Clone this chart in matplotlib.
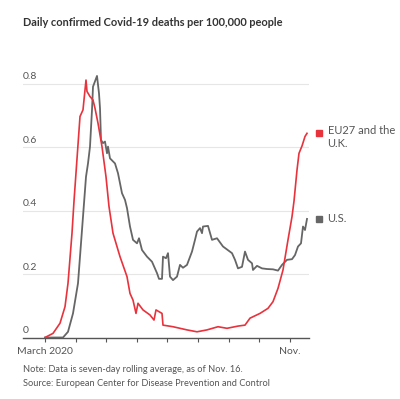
import datetime as dt
import matplotlib
matplotlib.use("Agg")
import matplotlib.pyplot as plt
import matplotlib.dates as mdates

plt.rcParams["font.family"] = ["Lato", "DejaVu Sans"]

START = dt.date(2020, 3, 1)

# days after March 1, 2020 and deaths per 100,000 (seven-day average)
eu_days = [0, 8, 15, 20, 23, 27, 29, 35, 38, 41, 42, 45, 48, 50, 53, 57, 61, 64,
           68, 75, 82, 85, 88, 91, 93, 98, 105, 109, 111, 117, 118, 128, 142, 152,
           162, 173, 182, 193, 200, 205, 215, 223, 228, 233, 238, 243, 247, 249,
           252, 254, 257, 260, 262]
eu_vals = [0.0, 0.013, 0.045, 0.097, 0.171, 0.329, 0.43, 0.697, 0.718, 0.812, 0.776,
           0.760, 0.749, 0.723, 0.676, 0.602, 0.507, 0.413, 0.329, 0.255, 0.192,
           0.139, 0.118, 0.076, 0.108, 0.087, 0.071, 0.055, 0.087, 0.076, 0.039,
           0.034, 0.024, 0.018, 0.024, 0.034, 0.029, 0.036, 0.039, 0.061, 0.076,
           0.092, 0.113, 0.155, 0.213, 0.308, 0.381, 0.43, 0.528, 0.581, 0.604,
           0.634, 0.644]

us_days = [0, 18, 23, 28, 33, 38, 41, 43, 45, 47, 48, 52, 54, 55, 56, 58, 60, 62,
           63, 65, 70, 73, 77, 80, 82, 85, 88, 92, 94, 97, 102, 107, 112, 114, 117,
           118, 121, 123, 125, 128, 132, 135, 138, 142, 147, 150, 152, 155, 157,
           158, 163, 167, 172, 178, 187, 190, 193, 197, 200, 203, 207, 208, 212,
           217, 222, 228, 233, 237, 242, 247, 250, 253, 256, 258, 260, 262]
us_vals = [0.0, 0.0, 0.018, 0.076, 0.171, 0.381, 0.507, 0.549, 0.602, 0.718, 0.791,
           0.825, 0.77, 0.723, 0.623, 0.613, 0.618, 0.581, 0.602, 0.565, 0.549,
           0.518, 0.455, 0.434, 0.408, 0.350, 0.308, 0.297, 0.313, 0.276, 0.255,
           0.239, 0.203, 0.185, 0.185, 0.255, 0.25, 0.266, 0.192, 0.181, 0.192,
           0.229, 0.22, 0.229, 0.271, 0.308, 0.334, 0.345, 0.329, 0.350, 0.352,
           0.308, 0.313, 0.287, 0.266, 0.245, 0.218, 0.223, 0.271, 0.245, 0.234,
           0.213, 0.226, 0.218, 0.216, 0.215, 0.211, 0.229, 0.245, 0.247, 0.26,
           0.287, 0.297, 0.350, 0.339, 0.374]

y_ticks = [0, 0.2, 0.4, 0.6, 0.8]
y_labels = ["0", "0.2", "0.4", "0.6", "0.8"]

RED = "#e8323c"
GRAY = "#666666"
TEXT = "#555555"


def to_dates(days):
    return [START + dt.timedelta(days=d) for d in days]


fig = plt.figure(figsize=(4.0, 3.99), dpi=100)
ax = fig.add_axes([23 / 400, 1 - 337.5 / 399, 286 / 400, 269.5 / 399])

ax.plot(to_dates(us_days), us_vals, color=GRAY, lw=1.3, zorder=3)
ax.plot(to_dates(eu_days), eu_vals, color=RED, lw=1.2, zorder=4)

ax.set_xlim(START - dt.timedelta(days=22), START + dt.timedelta(days=264))
ax.set_ylim(0, 0.85)

for s in ["top", "right", "left"]:
    ax.spines[s].set_visible(False)
ax.spines["bottom"].set_color("#555555")
ax.spines["bottom"].set_linewidth(1.0)

ax.set_yticks(y_ticks)
ax.set_yticklabels([])
ax.tick_params(axis="y", length=0)
ax.grid(axis="y", color="#e6e6e6", lw=0.8, zorder=0)
for v, lab in zip(y_ticks, y_labels):
    ax.text(0, v + 0.008, lab, transform=ax.get_yaxis_transform(),
            ha="left", va="bottom", fontsize=7.5, color=TEXT)

ax.xaxis.set_major_locator(mdates.MonthLocator())
ax.xaxis.set_major_formatter(
    plt.FuncFormatter(lambda v, p: {3: "March 2020", 11: "Nov."}.get(
        mdates.num2date(v).month, "")))
ax.tick_params(axis="x", length=3, width=0.8, color="#555555",
               labelsize=7.5, labelcolor=TEXT, pad=4)

# end labels
ax.plot([1.035], [eu_vals[-1]], "s", color=RED, ms=5,
        transform=ax.get_yaxis_transform(), clip_on=False)
ax.text(1.065, eu_vals[-1] + 0.025, "EU27 and the\nU.K.",
        transform=ax.get_yaxis_transform(),
        ha="left", va="top", fontsize=8, color=TEXT, linespacing=1.2)
ax.plot([1.035], [us_vals[-1]], "s", color=GRAY, ms=5,
        transform=ax.get_yaxis_transform(), clip_on=False)
ax.text(1.065, us_vals[-1], "U.S.", transform=ax.get_yaxis_transform(),
        ha="left", va="center", fontsize=8, color=TEXT)

fig.text(23 / 400, 1 - 23 / 399, "Daily confirmed Covid-19 deaths per 100,000 people",
         ha="left", va="center", fontsize=7.9, fontweight="bold", color="#333333")
fig.text(23 / 400, 1 - 370 / 399, "Note: Data is seven-day rolling average, as of Nov. 16.",
         ha="left", va="center", fontsize=6.7, color=TEXT)
fig.text(23 / 400, 1 - 383 / 399, "Source: European Center for Disease Prevention and Control",
         ha="left", va="center", fontsize=6.7, color=TEXT)

fig.savefig("out.png", dpi=100)
